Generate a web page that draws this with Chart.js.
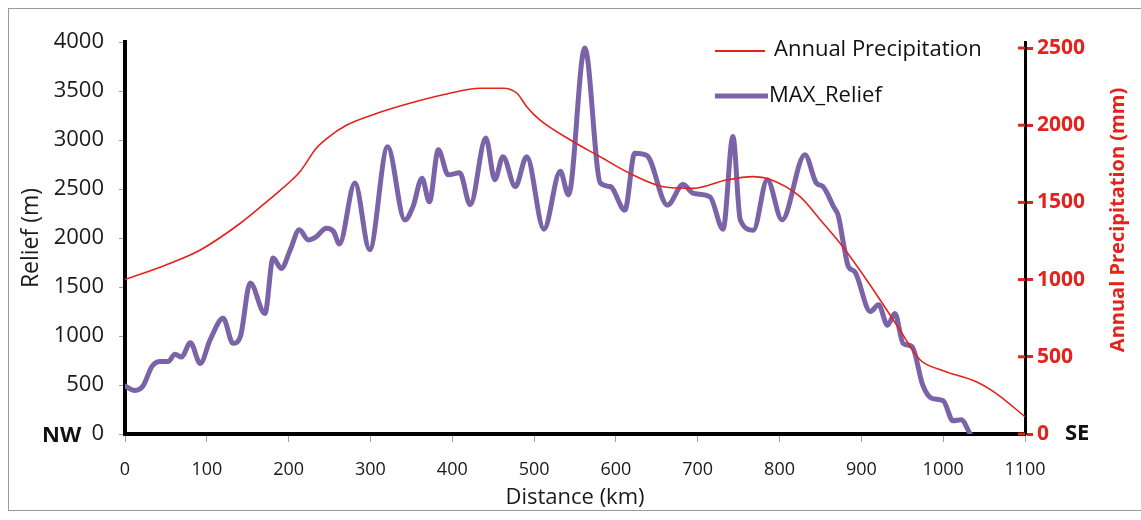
<!DOCTYPE html>
<html>
<head>
<meta charset="utf-8">
<script src="https://cdn.jsdelivr.net/npm/chart.js@4.4.1/dist/chart.umd.min.js"></script>
<style>
  html, body { margin: 0; padding: 0; background: #fff; }
  #wrap { position: relative; width: 1141px; height: 520px; }
  #frame { position: absolute; left: 8px; top: 8px; width: 1140px; height: 503px;
           border-left: 1.5px solid #9a9a9a; border-top: 1.5px solid #9a9a9a; border-bottom: 1.5px solid #9a9a9a;
           pointer-events: none; box-sizing: border-box; }
  canvas { display: block; }
</style>
</head>
<body>
<div id="wrap">
  <canvas id="c" width="1141" height="520"></canvas>
  <div id="frame"></div>
</div>
<script>
// ---- Data ----
const reliefKm = [0, 12, 22, 33, 43, 53, 61, 69, 80, 92, 104, 120, 132, 141, 153, 171, 181, 191, 202, 213,
  224, 234, 246, 255, 262, 281, 299, 321, 342, 352, 363, 372, 383, 395, 409, 422, 441, 452, 462, 477,
  491, 512, 532, 542, 562, 581, 593, 611, 623, 638, 663, 682, 695, 715, 731, 743, 752, 768, 785, 803,
  831, 845, 853, 866, 872, 878, 884, 892, 911, 921, 932, 941, 951, 962, 975, 986, 1000, 1012, 1022, 1033];
const reliefM = [490, 445, 490, 690, 740, 740, 815, 785, 930, 720, 960, 1180, 925, 995, 1540, 1230, 1795, 1690, 1880, 2085,
  1980, 2015, 2100, 2065, 1940, 2560, 1880, 2930, 2185, 2320, 2610, 2370, 2900, 2645, 2665, 2340, 3020, 2595, 2830, 2525,
  2830, 2090, 2680, 2440, 3940, 2560, 2525, 2285, 2865, 2840, 2335, 2545, 2455, 2420, 2090, 3035, 2185, 2080, 2595, 2185,
  2850, 2560, 2525, 2320, 2220, 1950, 1710, 1655, 1250, 1320, 1110, 1230, 925, 890, 500, 365, 340, 135, 145, 0];

const precipKm = [0, 50, 92, 141, 170, 190, 205, 214, 222, 232, 247, 271, 308, 348, 393, 434, 462, 479, 491, 507, 548, 577, 617,
  658, 695, 735, 768, 788, 825, 850, 874, 898, 923, 947, 972, 1000, 1041, 1065, 1100];
const precipMm = [1000, 1095, 1192, 1365, 1490, 1580, 1650, 1700, 1760, 1840, 1915, 2001, 2077, 2142, 2202, 2239, 2239, 2207, 2120, 2034, 1893, 1807, 1688,
  1602, 1591, 1645, 1667, 1650, 1537, 1386, 1235, 1062, 868, 674, 479, 410, 337, 262, 112];

const reliefTicks = [0, 500, 1000, 1500, 2000, 2500, 3000, 3500, 4000];
const precipTicks = [0, 500, 1000, 1500, 2000, 2500];
const distanceTicks = [0, 100, 200, 300, 400, 500, 600, 700, 800, 900, 1000, 1100];

const seriesNames = ['Annual Precipitation', 'MAX_Relief'];
const endLabels = ['NW', 'SE'];

const RED = '#e3231c';
const PURPLE = '#7b63a8';
const FONT = "'Open Sans', 'Liberation Sans', sans-serif";

const toPts = (xs, ys) => xs.map((x, i) => ({ x: x, y: ys[i] }));
const plain = v => String(v);

const extras = {
  id: 'extras',
  afterDatasetsDraw(chart) {
    const ctx = chart.ctx;
    const ya = chart.scales.y, yb = chart.scales.y1;
    const area = chart.chartArea;
    ctx.save();
    // inward part of the red tick marks on the right axis
    ctx.strokeStyle = RED; ctx.lineWidth = 3;
    precipTicks.forEach(v => {
      const py = yb.getPixelForValue(v);
      ctx.beginPath(); ctx.moveTo(area.right - 7, py); ctx.lineTo(area.right, py); ctx.stroke();
    });
    // right axis title, reading bottom-to-top
    ctx.fillStyle = RED;
    ctx.font = "bold 20px " + FONT;
    ctx.textAlign = 'center'; ctx.textBaseline = 'middle';
    ctx.translate(1118, 220); ctx.rotate(-Math.PI / 2);
    ctx.fillText('Annual Precipitation (mm)', 0, 0);
    ctx.restore();

    ctx.save();
    // NW / SE markers
    ctx.fillStyle = '#111';
    ctx.font = "bold 22px " + FONT;
    ctx.textBaseline = 'middle';
    const y0 = ya.getPixelForValue(0);
    ctx.textAlign = 'left';
    ctx.fillText(endLabels[0], 42, y0 + 2);
    ctx.fillText(endLabels[1], 1065, y0);

    // legend
    ctx.font = "22px " + FONT;
    ctx.fillStyle = '#111';
    ctx.lineCap = 'butt';
    ctx.strokeStyle = RED; ctx.lineWidth = 2;
    ctx.beginPath(); ctx.moveTo(715, 51); ctx.lineTo(765, 51); ctx.stroke();
    ctx.fillText(seriesNames[0], 774, 50);
    ctx.strokeStyle = PURPLE; ctx.lineWidth = 5;
    ctx.beginPath(); ctx.moveTo(715, 96); ctx.lineTo(768, 96); ctx.stroke();
    ctx.fillText(seriesNames[1], 769, 96);
    ctx.restore();
  }
};

new Chart(document.getElementById('c'), {
  type: 'line',
  data: {
    datasets: [
      {
        label: seriesNames[0],
        data: toPts(precipKm, precipMm),
        yAxisID: 'y1',
        borderColor: RED,
        borderWidth: 1.6,
        pointRadius: 0,
        cubicInterpolationMode: 'monotone',
        fill: false
      },
      {
        label: seriesNames[1],
        data: toPts(reliefKm, reliefM),
        yAxisID: 'y',
        borderColor: PURPLE,
        borderWidth: 5,
        pointRadius: 0,
        cubicInterpolationMode: 'monotone',
        borderJoinStyle: 'round',
        borderCapStyle: 'round',
        fill: false
      }
    ]
  },
  options: {
    responsive: false,
    animation: false,
    events: [],
    layout: { padding: { top: 42, left: 0, right: 0, bottom: 0 } },
    plugins: { legend: { display: false }, tooltip: { enabled: false } },
    scales: {
      x: {
        type: 'linear',
        min: 0, max: 1100,
        afterBuildTicks: s => { s.ticks = distanceTicks.map(v => ({ value: v })); },
        afterFit: s => { s.height = 86; },
        grid: { drawOnChartArea: false, tickLength: 8, tickColor: '#a0a0a0', tickWidth: 1 },
        border: { color: '#000', width: 4 },
        ticks: { color: '#1a1a1a', font: { family: FONT, size: 18 }, padding: 17, maxRotation: 0, autoSkip: false, callback: plain },
        title: { display: true, text: 'Distance (km)', color: '#1a1a1a', font: { family: FONT, size: 22 }, padding: { top: 0, bottom: 9 } }
      },
      y: {
        position: 'left',
        min: 0, max: 4000,
        afterBuildTicks: s => { s.ticks = reliefTicks.map(v => ({ value: v })); },
        afterFit: s => { s.width = 125; },
        grid: { drawOnChartArea: false, tickLength: 6, tickColor: '#a0a0a0', tickWidth: 1 },
        border: { color: '#000', width: 4 },
        ticks: { color: '#1a1a1a', font: { family: FONT, size: 22 }, padding: 15, callback: plain },
        title: { display: true, text: 'Relief (m)', color: '#1a1a1a', font: { family: FONT, size: 23 }, padding: { top: 18, bottom: 0 } }
      },
      y1: {
        position: 'right',
        min: 0, max: 2539,
        afterBuildTicks: s => { s.ticks = precipTicks.map(v => ({ value: v })); },
        afterFit: s => { s.width = 116; },
        grid: { drawOnChartArea: false, tickLength: 8, tickColor: RED, tickWidth: 3 },
        border: { color: '#000', width: 3 },
        ticks: { color: RED, font: { family: FONT, size: 21, weight: 'bold' }, padding: 4, callback: plain },
        title: { display: false }
      }
    }
  },
  plugins: [extras]
});
</script>
</body>
</html>
